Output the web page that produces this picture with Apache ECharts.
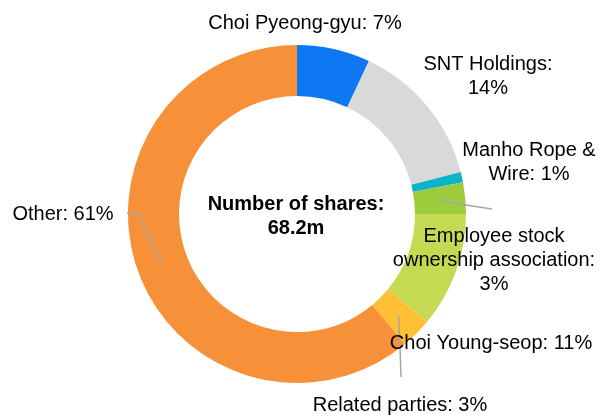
<!DOCTYPE html>
<html>
<head>
<meta charset="utf-8">
<script src="https://cdn.jsdelivr.net/npm/echarts@6/dist/echarts.min.js"></script>
<style>
  html, body { margin: 0; padding: 0; background: #fff; }
  #chart { width: 606px; height: 417px; }
</style>
</head>
<body>
<div id="chart"></div>
<script>
  // shareholders, clockwise from 12 o'clock
  var holders = ["Choi Pyeong-gyu", "SNT Holdings", "Manho Rope & Wire",
    "Employee stock ownership association", "Choi Young-seop", "Related parties", "Other"];
  var shares = [7, 14, 1, 3, 11, 3, 61]; // %
  var sliceColors = ["#0d78f2", "#d9d9d9", "#0ab4cc", "#9ccb3c", "#c5da52", "#ffc035", "#f79139"];
  // label text as wrapped in the picture ({v} = value)
  var labelTemplates = ["Choi Pyeong-gyu: {v}%", "SNT Holdings:\n{v}%", "Manho Rope &\nWire: {v}%",
    "Employee stock\nownership association:\n{v}%", "Choi Young-seop: {v}%", "Related parties: {v}%", "Other: {v}%"];
  var centerText = "Number of shares:\n68.2m";

  // layout
  var CX = 297, CY = 214, R0 = 118, R1 = 169;
  var labelSpots = [[305, 23], [488, 76], [529, 162], [494, 260], [491, 343], [400, 405], [63, 214]];
  // where the leader lines go after leaving the ring (null = no line)
  var leaderEnds = [null, null, null, [[466, 205], [492, 209]], null, [[400, 346], [401, 377]], [[137, 213], [127, 213]]];

  var total = shares.reduce(function (a, b) { return a + b; }, 0);
  function midAngle(i) {
    var before = 0;
    for (var k = 0; k < i; k++) before += shares[k];
    return (before + shares[i] / 2) / total * Math.PI * 2;
  }

  var ring = {
    type: "pie",
    center: [CX, CY],
    radius: [R0, R1],
    startAngle: 90,
    clockwise: true,
    avoidLabelOverlap: false,
    emphasis: { disabled: true }
  };

  var chart = echarts.init(document.getElementById("chart"));
  chart.setOption({
    animation: false,
    graphic: [{
      type: "text",
      x: CX - 1,
      y: 216,
      style: {
        text: centerText,
        fill: "#000",
        font: "bold 20px 'Liberation Sans', Arial, sans-serif",
        lineHeight: 24,
        align: "center",
        verticalAlign: "middle",
        textAlign: "center",
        textVerticalAlign: "middle"
      }
    }],
    series: [
      // coloured slices
      Object.assign({}, ring, {
        z: 2,
        itemStyle: { borderWidth: 0 },
        label: { show: false },
        labelLine: { show: false },
        data: holders.map(function (name, i) {
          return { name: name, value: shares[i], itemStyle: { color: sliceColors[i] } };
        })
      }),
      // see-through copy on top, carries the labels and leader lines
      Object.assign({}, ring, {
        z: 3,
        silent: true,
        itemStyle: { color: "rgba(0,0,0,0)", borderWidth: 0 },
        label: {
          show: true,
          position: "outside",
          alignTo: "none",
          overflow: "none",
          color: "#000",
          fontFamily: "'Liberation Sans', Arial, sans-serif",
          fontSize: 20,
          lineHeight: 24,
          align: "center",
          formatter: function (p) {
            return labelTemplates[p.dataIndex].replace("{v}", p.value);
          }
        },
        labelLine: {
          show: false,
          lineStyle: { color: "#a6a6a6", width: 1.5 }
        },
        labelLayout: function (p) {
          var i = p.dataIndex;
          var out = { x: labelSpots[i][0], y: labelSpots[i][1], align: "center", verticalAlign: "middle" };
          if (leaderEnds[i]) {
            var a = midAngle(i);
            var rm = (R0 + R1) / 2;
            out.labelLinePoints = [[CX + rm * Math.sin(a), CY - rm * Math.cos(a)]].concat(leaderEnds[i]);
          }
          return out;
        },
        data: holders.map(function (name, i) {
          return { name: name, value: shares[i], labelLine: { show: !!leaderEnds[i] } };
        })
      })
    ]
  });
</script>
</body>
</html>
